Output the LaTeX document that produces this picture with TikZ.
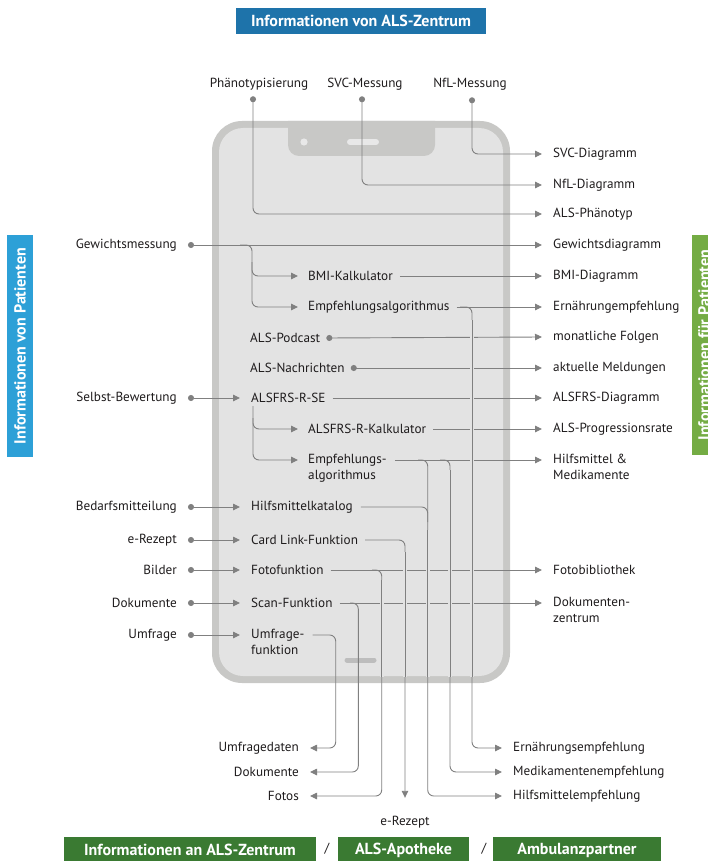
\documentclass[tikz,border=0pt]{standalone}
\usepackage{fontspec}
\setmainfont{PT Sans}
\usetikzlibrary{arrows.meta,calc}
\definecolor{lncol}{HTML}{808080}
\definecolor{txtcol}{HTML}{1E1B1C}
\definecolor{phoneborder}{HTML}{C8C8C6}
\definecolor{phonefill}{HTML}{E3E3E3}
\definecolor{phonelight}{HTML}{E8E8E8}
\definecolor{homebar}{HTML}{BDBDBD}
\definecolor{topblue}{HTML}{1E73AA}
\definecolor{leftblue}{HTML}{2DA0D7}
\definecolor{rightgreen}{HTML}{74AC44}
\definecolor{botgreen}{HTML}{3A7A32}
\tikzset{
  lbl/.style={font=\fontsize{13.2}{15.5}\selectfont, text=txtcol, inner sep=0pt, align=left},
  banner/.style={font=\bfseries\fontsize{16}{18}\selectfont, text=white, inner sep=0pt},
  conn/.style={draw=lncol, line width=0.9pt, rounded corners=6pt},
  arr/.style={conn, -{Triangle[length=7pt,width=6.5pt]}},
  dotarr/.style={conn, {Circle[length=6pt]}-{Triangle[length=7pt,width=6.5pt]}},
  dotline/.style={conn, {Circle[length=6pt]}-},
}
\begin{document}
\begin{tikzpicture}[x=1pt,y=-1pt]
\useasboundingbox (0,0) rectangle (708,861);
\clip (0,0) rectangle (708,861);

% ---------- banners ----------
\node[banner, fill=topblue, minimum width=250pt, minimum height=26pt] (topb) at (361,21) {Informationen von ALS-Zentrum};
\node[banner, fill=leftblue, rotate=90, minimum width=222pt, minimum height=26pt] (leftb) at (20,346) {Informationen von Patienten};
\node[banner, fill=rightgreen, rotate=90, minimum width=220pt, minimum height=24pt] (rightb) at (704,345) {Informationen für Patienten};
\node[banner, fill=botgreen, minimum width=252pt, minimum height=26pt] (bot1) at (190,850) {Informationen an ALS-Zentrum};
\node[banner, fill=botgreen, minimum width=131pt, minimum height=26pt] (bot2) at (403.5,850) {ALS-Apotheke};
\node[banner, fill=botgreen, minimum width=168pt, minimum height=26pt] (bot3) at (577,850) {Ambulanzpartner};
\node[lbl] (sl1) at (327,849) {/};
\node[lbl] (sl2) at (484,849) {/};

% ---------- phone ----------
\fill[phoneborder, rounded corners=30pt] (212,121) rectangle (510,683);
\fill[phonefill, rounded corners=24pt] (219,128) rectangle (503,676);
\begin{scope}
  \clip[rounded corners=30pt] (212,121) rectangle (510,683);
  \fill[phoneborder, rounded corners=11pt] (288,100) rectangle (435,156);
\end{scope}
\fill[phonelight] (304,142) circle[radius=3.6pt];
\draw[phonelight, line width=6pt, line cap=round] (350,142) -- (376,142);
\draw[homebar, line width=5pt, line cap=round] (347,660) -- (374,660);

% ---------- top labels ----------
\node[lbl] (phae) at (259,84) {Phänotypisierung};
\node[lbl] (svcm) at (365,84) {SVC-Messung};
\node[lbl] (nflm) at (470,84) {NfL-Messung};

% ---------- right labels ----------
\node[lbl, anchor=west] (svcd) at (553,154) {SVC-Diagramm};
\node[lbl, anchor=west] (nfld) at (553,185) {NfL-Diagramm};
\node[lbl, anchor=west] (alsp) at (553,214) {ALS-Phänotyp};
\node[lbl, anchor=west] (gewd) at (553,245) {Gewichtsdiagramm};
\node[lbl, anchor=west] (bmid) at (553,276) {BMI-Diagramm};
\node[lbl, anchor=west] (ernd) at (553,307) {Ernährungempfehlung};
\node[lbl, anchor=west] (monf) at (553,337) {monatliche Folgen};
\node[lbl, anchor=west] (aktm) at (553,368) {aktuelle Meldungen};
\node[lbl, anchor=west] (alsd) at (553,398) {ALSFRS-Diagramm};
\node[lbl, anchor=west] (prog) at (553,429) {ALS-Progressionsrate};
\node[lbl, anchor=north west] (hilf) at (553,454.1) {Hilfsmittel \&\\Medikamente};
\node[lbl, anchor=west] (fbib) at (553,570) {Fotobibliothek};
\node[lbl, anchor=north west] (dokz) at (553,597.1) {Dokumenten-\\zentrum};

% ---------- left labels ----------
\node[lbl, anchor=east] (gewm) at (177,245) {Gewichtsmessung};
\node[lbl, anchor=east] (selb) at (177,398) {Selbst-Bewertung};
\node[lbl, anchor=east] (bedf) at (177,507) {Bedarfsmitteilung};
\node[lbl, anchor=east] (erez) at (177,540) {e-Rezept};
\node[lbl, anchor=east] (bild) at (177,570) {Bilder};
\node[lbl, anchor=east] (doku) at (177,603) {Dokumente};
\node[lbl, anchor=east] (umfr) at (177,635) {Umfrage};

% ---------- app labels ----------
\node[lbl, anchor=west] (bmik) at (308,276) {BMI-Kalkulator};
\node[lbl, anchor=west] (empa) at (308,307) {Empfehlungsalgorithmus};
\node[lbl, anchor=west] (podc) at (250,338) {ALS-Podcast};
\node[lbl, anchor=west] (nach) at (250,368) {ALS-Nachrichten};
\node[lbl, anchor=west] (alsse) at (251,398) {ALSFRS-R-SE};
\node[lbl, anchor=west] (alsk) at (308,429) {ALSFRS-R-Kalkulator};
\node[lbl, anchor=north west] (empb) at (308,454.1) {Empfehlungs-\\algorithmus};
\node[lbl, anchor=west] (hkat) at (251,507) {Hilfsmittelkatalog};
\node[lbl, anchor=west] (card) at (251,540) {Card Link-Funktion};
\node[lbl, anchor=west] (foto) at (251,570) {Fotofunktion};
\node[lbl, anchor=west] (scan) at (251,603) {Scan-Funktion};
\node[lbl, anchor=north west] (umff) at (251,629.1) {Umfrage-\\funktion};

% ---------- bottom labels ----------
\node[lbl, anchor=east] (uda) at (299,748) {Umfragedaten};
\node[lbl, anchor=east] (dok2) at (299,772) {Dokumente};
\node[lbl, anchor=east] (fotos) at (299,796) {Fotos};
\node[lbl] (erez2) at (405,822) {e-Rezept};
\node[lbl, anchor=west] (ernb) at (513,748) {Ernährungsempfehlung};
\node[lbl, anchor=west] (medb) at (513,772) {Medikamentenempfehlung};
\node[lbl, anchor=west] (hilb) at (513,796) {Hilfsmittelempfehlung};

% ---------- connectors: top ----------
\draw[dotarr] ($(phae.south)+(-6,6)$) -- (253,214) -- ($(alsp.west)+(-11,0)$);
\draw[dotarr] ($(svcm.south)+(-3,6)$) -- (362,185) -- ($(nfld.west)+(-11,0)$);
\draw[dotarr] ($(nflm.south)+(2,7)$) -- (472,154) -- ($(svcd.west)+(-11,0)$);

% weight
\draw[dotarr] ($(gewm.east)+(11,0)$) -- ($(gewd.west)+(-11,0)$);
\draw[arr] (240,245) -- (252,245) -- (252,307) -- ($(empa.west)+(-10,0)$);
\draw[arr] (252,262) -- (252,276) -- ($(bmik.west)+(-10,0)$);
\draw[arr] ($(bmik.east)+(7,0)$) -- ($(bmid.west)+(-11,0)$);
\draw[arr] ($(empa.east)+(7,0)$) -- ($(ernd.west)+(-11,0)$);
\draw[arr] (460,307) -- (472,307) -- (472,748) -- ($(ernb.west)+(-11,0)$);

% news
\draw[dotarr] ($(podc.east)+(6,0)$) -- ($(monf.west)+(-11,0)$);
\draw[dotarr] ($(nach.east)+(6,0)$) -- ($(aktm.west)+(-11,0)$);

% ALSFRS
\draw[dotarr] ($(selb.east)+(11,0)$) -- ($(alsse.west)+(-11,0)$);
\draw[arr] ($(alsse.east)+(7,0)$) -- ($(alsd.west)+(-11,0)$);
\draw[arr] (253,406) -- (253,460) -- ($(empb.north west)+(-10,5.9)$);
\draw[arr] (253,418) -- (253,429) -- ($(alsk.west)+(-10,0)$);
\draw[arr] ($(alsk.east)+(7,0)$) -- ($(prog.west)+(-11,0)$);
\draw[arr] ($(empb.north east)+(8,5.9)$) -- ($(hilf.north west)+(-11,5.9)$);
\draw[arr] (418,460) -- (427.7,460) -- (427.7,796) -- ($(hilb.west)+(-11,0)$);
\draw[arr] (440,460) -- (450,460) -- (450,772) -- ($(medb.west)+(-11,0)$);

% lower inputs
\draw[dotarr] ($(bedf.east)+(11,0)$) -- ($(hkat.west)+(-11,0)$);
\draw[conn] ($(hkat.east)+(8,0)$) -- (427.7,507) -- (427.7,522);
\draw[dotarr] ($(erez.east)+(11,0)$) -- ($(card.west)+(-11,0)$);
\draw[arr] ($(card.east)+(7,0)$) -- (405,540) -- ($(erez2.north)+(0,-18)$);
\draw[dotarr] ($(bild.east)+(11,0)$) -- ($(foto.west)+(-11,0)$);
\draw[arr] ($(foto.east)+(7,0)$) -- ($(fbib.west)+(-11,0)$);
\draw[arr] (372,570) -- (381.7,570) -- (381.7,796) -- ($(fotos.east)+(11,0)$);
\draw[dotarr] ($(doku.east)+(11,0)$) -- ($(scan.west)+(-11,0)$);
\draw[arr] ($(scan.east)+(7,0)$) -- ($(dokz.north west)+(-11,5.9)$);
\draw[arr] (350,603) -- (358.3,603) -- (358.3,772) -- ($(dok2.east)+(11,0)$);
\draw[dotarr] ($(umfr.east)+(11,0)$) -- ($(umff.west |- umfr.east)+(-11,0)$);
\draw[arr] ($(umff.north east)+(8,5.9)$) -- (335.7,635) -- (335.7,748) -- ($(uda.east)+(11,0)$);

% ---------- crossing gaps ----------
\begin{scope}
  \clip (219,128) rectangle (503,676);
  \foreach \vx/\va/\vb in {472/320/738, 450/470/762, 427.7/530/786, 405/552/786, 381.7/580/786}{
    \draw[phonefill, line width=4pt] (\vx,\va) -- (\vx,\vb);
    \draw[lncol, line width=0.9pt] (\vx,\va) -- (\vx,\vb);
  }
\end{scope}
\end{tikzpicture}
\end{document}
